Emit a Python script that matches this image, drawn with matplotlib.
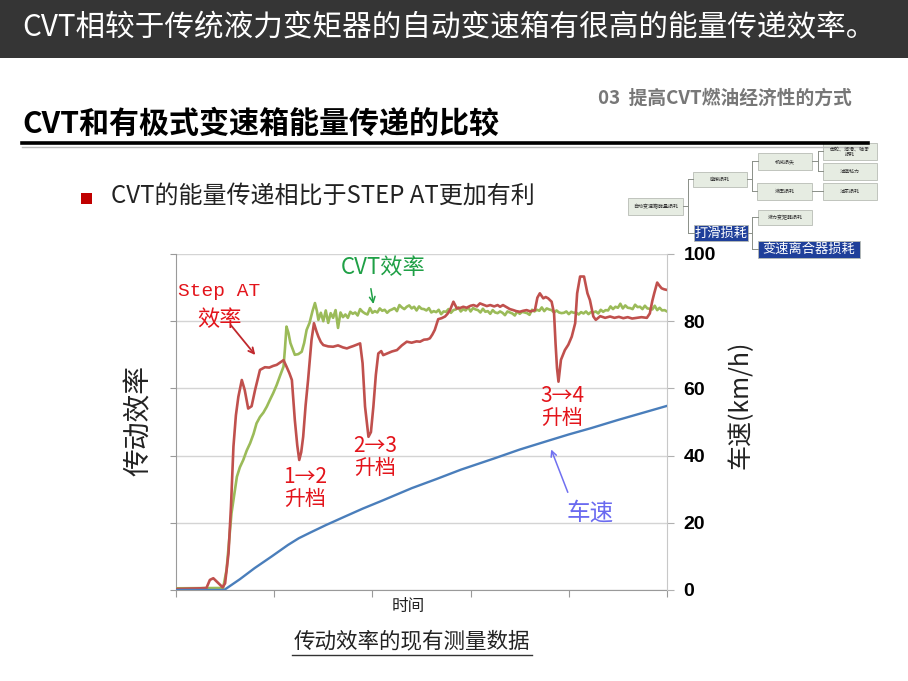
import matplotlib
matplotlib.use("Agg")
import matplotlib.pyplot as plt
from matplotlib.patches import Rectangle

plt.rcParams['font.family'] = ['Noto Sans CJK SC', 'DejaVu Sans']

W, H = 908, 681

# ---- data (time in % of run, values in %) ----
step_at_points = [
    (0, 0.3), (5, 0.5), (6.2, 0.6), (6.9, 3.0), (7.6, 3.5), (8.3, 2.5), (9.0, 1.5), (9.5, 0.8),
    (10.0, 2.0), (10.7, 11), (11.2, 25), (11.7, 42.7), (12.2, 52), (12.7, 57.5), (13.4, 62.5),
    (14.0, 59.5), (14.7, 54.0), (15.4, 54.7), (16.1, 59.5), (17.1, 65.5), (18.1, 66.3),
    (19.0, 66.2), (19.8, 66.7), (20.5, 67.0), (21.2, 67.7), (21.9, 68.4), (22.5, 66.5),
    (23.1, 64.5), (23.6, 62.5), (24.2, 50.6), (24.7, 43), (25.1, 38.7), (25.5, 41),
    (25.9, 45.6), (26.4, 55), (26.9, 62.5), (27.6, 74.4), (28.1, 79.4), (28.6, 77),
    (29.0, 75.4), (29.5, 73.8), (30.0, 72.9), (31.0, 72.5), (32.0, 72.4), (33.0, 72.8),
    (34.0, 72.2), (34.8, 71.9), (35.5, 72.3), (36.1, 72.6), (36.8, 73.0), (37.5, 73.4),
    (38.0, 67.5), (38.5, 54.6), (39.2, 45.6), (39.7, 47), (40.2, 54.6), (40.7, 64),
    (41.2, 70.4), (41.8, 71.1), (42.2, 69.9), (43.0, 70.4), (44.0, 71.0), (45.0, 71.4),
    (46.0, 72.8), (47.0, 73.9), (48.0, 73.6), (49.0, 74.0), (49.7, 73.9), (50.5, 74.5),
    (51.2, 74.6), (51.7, 74.9), (52.2, 76.0), (52.7, 77.4), (53.4, 80.6), (54.1, 80.9),
    (54.8, 81.4), (55.3, 82.2), (55.8, 83.3), (56.5, 85.8), (57.2, 83.8), (58.0, 84.0),
    (58.5, 84.3), (59.2, 84.0), (60.0, 84.6), (60.6, 84.8), (61.3, 84.4), (61.9, 85.3),
    (62.6, 84.9), (63.3, 84.5), (64.0, 84.8), (64.8, 84.4), (65.5, 84.8), (66.0, 84.3),
    (66.6, 84.8), (67.3, 84.2), (68.0, 83.6), (68.7, 83.3), (69.3, 83.0), (70.0, 82.8),
    (70.7, 83.1), (71.4, 83.3), (72.2, 82.9), (73.1, 83.3), (73.6, 87.0), (74.1, 88.3),
    (74.8, 86.8), (75.3, 87.2), (75.8, 86.8), (76.5, 85.8), (77.0, 82.3), (77.3, 73.4),
    (77.6, 66), (77.9, 62), (78.4, 68.5), (79.2, 71.4), (79.9, 73.0), (80.6, 75.4),
    (81.3, 79.4), (81.7, 88.3), (82.3, 93.3), (83.1, 93.3), (83.8, 88.3), (84.3, 86.3),
    (85.0, 81.4), (85.5, 80.4), (86.4, 81.5), (87.4, 81.0), (88.4, 81.4), (89.3, 81.0),
    (90.2, 81.3), (91.1, 80.9), (92.0, 81.2), (92.9, 80.8), (93.8, 81.0), (94.8, 81.2),
    (95.9, 81.0), (96.5, 82.3), (97.0, 86), (97.4, 88.3), (98.0, 91.5), (98.5, 90.5),
    (98.9, 89.8), (99.4, 89.5), (100, 89.3),
]

cvt_points = [
    (0, 0.5), (9.6, 0.6), (10.3, 6), (11.3, 22.8), (12.4, 33.7), (13.0, 36.5), (13.7, 38.7),
    (14.4, 41.5), (15.1, 43.7), (15.8, 46.5), (16.4, 49.6), (17.1, 51.5), (17.8, 52.8),
    (18.5, 54.6), (19.2, 56.8), (19.8, 58.6), (20.5, 61), (21.2, 63.8), (21.9, 66.5),
    (22.2, 72), (22.5, 78.4), (22.9, 76.5), (23.3, 73.5), (24.2, 70), (24.9, 70.2),
    (25.6, 70.9), (26.1, 73.5), (26.6, 77.4), (27.2, 79.5), (27.8, 83), (28.3, 85.4),
    (28.7, 83), (29.0, 80.4),
    (29.5, 82.5), (30.0, 80.0), (30.5, 83.2), (31.0, 79.5), (31.5, 82.4), (32.0, 81.0),
    (32.5, 83.3), (33.0, 78.0), (33.5, 82.6), (34.0, 81.2), (34.5, 82.0), (35.0, 81.0),
    (35.5, 82.8), (36.0, 82.2), (36.5, 82.6), (37.0, 81.7), (37.5, 83.6), (38.0, 82.8),
    (38.5, 82.3), (39.0, 82.0), (39.5, 83.9), (40.0, 82.5), (40.5, 83.0), (41.0, 82.6),
    (41.5, 83.8), (42.0, 83.1), (42.5, 83.4), (43.0, 82.5), (43.5, 83.2), (44.0, 83.5),
    (44.5, 83.9), (45.0, 83.0), (45.5, 84.8), (46.0, 84.1), (46.5, 83.6), (47.0, 84.3),
    (47.5, 84.7), (48.0, 83.8), (48.5, 84.3), (49.0, 83.2), (49.5, 84.4), (50.0, 83.7),
    (50.5, 83.6), (51.0, 83.2), (51.5, 83.9), (52.0, 82.6), (52.5, 83.0), (53.0, 82.7),
    (53.5, 83.4), (54.0, 82.1), (54.5, 82.9), (55.0, 82.8), (55.5, 83.6), (56.0, 82.5),
    (56.5, 83.3), (57.0, 83.5), (57.5, 84.1), (58.0, 82.9), (58.5, 83.6), (59.0, 83.2),
    (59.5, 84.2), (60.0, 82.9), (60.5, 83.9), (61.0, 83.5), (61.5, 83.3), (62.0, 82.6),
    (62.5, 83.7), (63.0, 82.8), (63.5, 83.0), (64.0, 82.2), (64.5, 83.3), (65.0, 82.6),
    (65.5, 82.4), (66.0, 82.9), (66.5, 82.5), (67.0, 81.8), (67.5, 82.9), (68.0, 82.6),
    (68.5, 82.3), (69.0, 81.7), (69.5, 82.9), (70.0, 82.2), (70.5, 82.8), (71.0, 82.6),
    (71.5, 82.4), (72.0, 81.9), (72.5, 83.4), (73.0, 82.9), (73.5, 83.4), (74.0, 83.1),
    (74.5, 84.1), (75.0, 83.0), (75.5, 83.8), (76.0, 83.5), (76.5, 83.3), (77.0, 82.6),
    (77.5, 83.2), (78.0, 82.6), (78.5, 82.4), (79.0, 82.5), (79.5, 82.9), (80.0, 82.1),
    (80.5, 82.8), (81.0, 82.5), (81.5, 82.6), (82.0, 82.0), (82.5, 82.7), (83.0, 82.3),
    (83.5, 82.9), (84.0, 82.1), (84.5, 82.7), (85.0, 82.6), (85.5, 82.9), (86.0, 82.3),
    (86.5, 83.4), (87.0, 82.8), (87.5, 83.3), (88.0, 83.2), (88.5, 84.4), (89.0, 83.6),
    (89.5, 84.3), (90.0, 84.0), (90.5, 85.2), (91.0, 83.8), (91.5, 84.7), (92.0, 84.0),
    (92.5, 83.9), (93.0, 83.6), (93.5, 84.9), (94.0, 84.2), (94.5, 84.3), (95.0, 83.6),
    (95.5, 84.6), (96.0, 83.8), (96.5, 83.7), (97.0, 83.5), (97.5, 84.6), (98.0, 83.3),
    (98.5, 84.0), (99.0, 83.2), (99.5, 83.3), (100.0, 82.9),
]

speed_points = [
    (0, 0), (9.8, 0), (13, 3.2), (16, 6.5), (19.5, 10), (22.8, 13.4), (25, 15.4),
    (27.5, 17.2), (30.5, 19.3), (34, 21.6), (38, 24.2), (42, 26.6), (48, 30.3), (53, 33),
    (58, 35.8), (64.9, 39.2), (70, 41.8), (76.2, 44.6), (80, 46.3), (84.6, 48.2),
    (90, 50.6), (95, 52.7), (100, 54.8),
]

speed_ticks = [0, 20, 40, 60, 80, 100]
time_ticks = [0, 20, 40, 60, 80, 100]


def fx(x):
    return x / W


def fy(y):
    return 1 - y / H


fig = plt.figure(figsize=(W / 100, H / 100), dpi=100)

# ---- slide header ----
fig.patches.append(Rectangle((0, fy(58)), 1, 58 / H, transform=fig.transFigure,
                             facecolor='#353535', edgecolor='none'))
fig.text(fx(22), fy(28), 'CVT相较于传统液力变矩器的自动变速箱有很高的能量传递效率。',
         color='white', fontsize=21.3, va='center', ha='left')
fig.text(fx(852), fy(98), '03  提高CVT燃油经济性的方式', color='#777777', fontsize=13.5,
         fontweight='bold', va='center', ha='right')
fig.text(fx(22), fy(124), 'CVT和有极式变速箱能量传递的比较', color='black', fontsize=21.6,
         fontweight='bold', va='center', ha='left')
fig.add_artist(plt.Line2D([fx(22), fx(868)], [fy(143), fy(143)], color='black', lw=2.6))
fig.add_artist(plt.Line2D([fx(22), fx(868)], [fy(146.5), fy(146.5)], color='#bbbbbb', lw=1))

# bullet
fig.patches.append(Rectangle((fx(81), fy(204)), 11 / W, 11 / H, transform=fig.transFigure,
                             facecolor='#c00000', edgecolor='none'))
fig.text(fx(111), fy(196), 'CVT的能量传递相比于STEP AT更加有利', color='#222222',
         fontsize=17.3, va='center', ha='left')

# ---- small loss tree (top right) ----
boxes = [
    (628, 198, 683, 215, '自动变速箱能量损耗', 'plain'),
    (693, 172, 747, 187, '摩擦损耗', 'plain'),
    (758, 153, 812, 170, '机械损失', 'plain'),
    (823, 143, 877, 160, '齿轮、润滑、轴承\n损耗', 'plain'),
    (823, 163, 877, 180, '油膜粘力', 'plain'),
    (757, 183, 812, 200, '液压损耗', 'plain'),
    (823, 183, 877, 200, '油泵损耗', 'plain'),
    (758, 210, 812, 225, '液力变矩器损耗', 'plain'),
    (694, 225, 748, 241, '打滑损耗', 'blue'),
    (758, 241, 860, 258, '变速离合器损耗', 'blue'),
]
for x0, y0, x1, y1, label, kind in boxes:
    if kind == 'blue':
        fc, tc, fs = '#1f3f9a', 'white', 9.5
    else:
        fc, tc, fs = '#e6ece2', '#333333', 3.6
    fig.patches.append(Rectangle((fx(x0), fy(y1)), (x1 - x0) / W, (y1 - y0) / H,
                                 transform=fig.transFigure, facecolor=fc,
                                 edgecolor='#b8bcb5', lw=0.6))
    fig.text(fx((x0 + x1) / 2), fy((y0 + y1) / 2), label, color=tc, fontsize=fs,
             ha='center', va='center', linespacing=1.0)

links = [
    [(683, 206), (688, 206)], [(688, 179), (688, 233)], [(688, 179), (693, 179)],
    [(688, 233), (694, 233)], [(747, 179), (752, 179)], [(752, 161), (752, 191)],
    [(752, 161), (758, 161)], [(752, 191), (757, 191)], [(812, 161), (818, 161)],
    [(818, 151), (818, 171)], [(818, 151), (823, 151)], [(818, 171), (823, 171)],
    [(812, 191), (823, 191)], [(748, 233), (752, 233)], [(752, 217), (752, 249)],
    [(752, 217), (758, 217)], [(752, 249), (758, 249)],
]
for (xa, ya), (xb, yb) in links:
    fig.add_artist(plt.Line2D([fx(xa), fx(xb)], [fy(ya), fy(yb)], color='#8a8f88', lw=0.7))

# ---- chart ----
ax = fig.add_axes([fx(176), fy(590), (667 - 176) / W, (590 - 254) / H])
ax2 = ax.twinx()

t_r, v_r = zip(*step_at_points)
t_g, v_g = zip(*cvt_points)
t_b, v_b = zip(*speed_points)

ax.plot(t_g, v_g, color='#9bbb59', lw=1.9, zorder=3)
ax.plot(t_r, v_r, color='#c0504d', lw=1.9, zorder=4)
ax2.plot(t_b, v_b, color='#4a7ebb', lw=1.7, zorder=3)

ax.set_xlim(0, 100)
ax.set_ylim(0, 100)
ax2.set_ylim(0, 100)
ax.set_xticks(time_ticks)
ax.set_xticklabels([])
ax.set_yticks(speed_ticks)
ax.set_yticklabels([])
ax.grid(axis='y', color='#d4d4d4', lw=1)
ax.set_axisbelow(True)
ax.tick_params(axis='x', direction='out', length=5, color='#9a9a9a')
ax.tick_params(axis='y', direction='out', length=4, color='#9a9a9a')
for side in ['left', 'bottom']:
    ax.spines[side].set_color('#9a9a9a')
ax.spines['top'].set_visible(False)
ax.spines['right'].set_visible(False)
ax2.spines['top'].set_visible(False)
ax2.spines['left'].set_visible(False)
ax2.spines['bottom'].set_visible(False)
ax2.spines['right'].set_color('#c8c8c8')
ax2.set_yticks(speed_ticks)
ax2.tick_params(axis='y', direction='out', length=5, color='#b0b0b0', pad=7)
for lab in ax2.get_yticklabels():
    lab.set_fontfamily(['Liberation Sans', 'DejaVu Sans'])
    lab.set_fontweight('bold')
    lab.set_fontsize(14)
ax.patch.set_alpha(0)

fig.text(fx(408), fy(606), '时间', fontsize=12, ha='center', va='center', color='#222222')
fig.text(fx(139), fy(420), '传动效率', rotation=90, fontsize=20, ha='center', va='center',
         color='#222222')
fig.text(fx(741), fy(405), '车速(km/h)', rotation=90, fontsize=18, ha='center', va='center',
         color='#222222')

red = '#e3141b'
ax.text(8.8, 88.8, 'Step AT', color=red, fontsize=14,
        family=['Liberation Mono', 'Noto Sans CJK SC'], ha='center', va='center')
ax.text(8.8, 80.4, '效率', color=red, fontsize=16, ha='center', va='center')
ax.annotate('', xy=(16.5, 69.3), xytext=(10.8, 79.5),
            arrowprops=dict(arrowstyle='->', color='#c0282d', lw=1.3))
ax.text(42.2, 96.0, 'CVT效率', color='#1fa046', fontsize=16, ha='center', va='center')
ax.annotate('', xy=(40.3, 84.3), xytext=(39.6, 90.5),
            arrowprops=dict(arrowstyle='->', color='#1fa046', lw=1.1))
for x, y, s in [(26.2, 33.7, '1→2'), (40.6, 42.9, '2→3'), (78.6, 57.8, '3→4')]:
    ax.text(x, y, s, color=red, fontsize=15, ha='center', va='center')
    ax.text(x, y - 6.6, '升档', color=red, fontsize=15, ha='center', va='center')
ax.text(84.4, 22.9, '车速', color='#6a6af0', fontsize=17, ha='center', va='center')
ax.annotate('', xy=(76.2, 42.6), xytext=(80.0, 28.3),
            arrowprops=dict(arrowstyle='->', color='#7070f0', lw=1.1))

# caption
fig.text(fx(412), fy(641), '传动效率的现有测量数据', fontsize=15.5, ha='center', va='center',
         color='#222222')
fig.add_artist(plt.Line2D([fx(292), fx(532)], [fy(655), fy(655)], color='#333333', lw=1))

fig.savefig('out.png', dpi=100)
